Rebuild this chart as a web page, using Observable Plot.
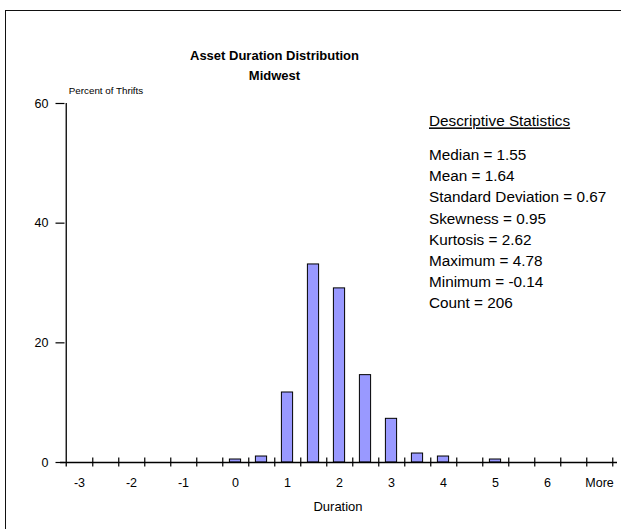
<!DOCTYPE html>
<html><head><meta charset="utf-8">
<script src="https://cdn.jsdelivr.net/npm/d3@7"></script>
<script src="https://cdn.jsdelivr.net/npm/@observablehq/plot@0.6"></script>
<style>
body{margin:0;background:#fff;}
#wrap{position:relative;width:621px;height:529px;overflow:hidden;font-family:"Liberation Sans",Arial,sans-serif;}
#border{position:absolute;left:4.5px;top:9.5px;width:700px;height:600px;border-top:1.5px solid #111;border-left:1.5px solid #111;pointer-events:none;}
#wrap svg{position:absolute;left:0;top:0;}
</style></head><body><div id="wrap"><div id="border"></div></div>
<script>
const categories = ["-3","-2.5","-2","-1.5","-1","-0.5","0","0.5","1","1.5","2","2.5","3","3.5","4","4.5","5","5.5","6","6.5","More"];
const percents = [0,0,0,0,0,0,0.5,1.0,11.7,33.1,29.1,14.6,7.3,1.5,1.0,0,0.5,0,0,0,0];
const tickLabels = ["-3","-2","-1","0","1","2","3","4","5","6","More"];
const yTicks = [0,20,40,60];
const titleLines = ["Asset Duration Distribution","Midwest"];
const yLabel = "Percent of Thrifts";
const xLabel = "Duration";
const statsHeading = "Descriptive Statistics";
const statsLines = ["Median = 1.55","Mean = 1.64","Standard Deviation = 0.67","Skewness = 0.95","Kurtosis = 2.62","Maximum = 4.78","Minimum = -0.14","Count = 206"];

const W = 621, H = 529, ML = 60, MR = 4, MT = 103, MB = 67;
const step = (W - ML - MR) / categories.length;
const bars = categories.map((c, i) => ({c, v: percents[i]})).filter(d => d.v > 0);

const chart = Plot.plot({
  width: W, height: H,
  marginLeft: ML, marginRight: MR, marginTop: MT, marginBottom: MB,
  style: {fontFamily: '"Liberation Sans", Arial, sans-serif', color: "#000", background: "transparent", overflow: "visible"},
  x: {type: "band", domain: categories, padding: 0},
  y: {domain: [0, 60]},
  marks: [
    Plot.barY(bars, {x: "c", y: "v", fill: "#9999FF", stroke: "#000", strokeWidth: 1, insetLeft: 7.4, insetRight: 7.4}),
    Plot.ruleY([0], {stroke: "#000", strokeWidth: 1.3}),
    Plot.ruleX([categories[0]], {dx: -step / 2, insetBottom: -4.5, stroke: "#000", strokeWidth: 1.3}),
    Plot.axisY({ticks: yTicks, tickSize: 9, dx: 4.5, tickPadding: 7.5, fontSize: 12.5, label: null, tickFormat: d => String(d), strokeWidth: 1.2}),
    Plot.axisX({ticks: categories, tickSize: 9, dx: step / 2, dy: -4.5, tickFormat: () => "", label: null, strokeWidth: 1.2}),
    Plot.text(tickLabels, {x: d => d, frameAnchor: "bottom", lineAnchor: "middle", dy: 20.5, fontSize: 12.5}),
    Plot.text([xLabel], {frameAnchor: "bottom", lineAnchor: "middle", dx: -1, dy: 44.4, fontSize: 13}),
    Plot.text([yLabel], {frameAnchor: "top-left", lineAnchor: "middle", dx: 8.3, dy: -13, textAnchor: "start", fontSize: 9.8}),
    Plot.text([titleLines[0]], {frameAnchor: "top", lineAnchor: "middle", dx: -64.5, dy: -48, fontWeight: "bold", fontSize: 13}),
    Plot.text([titleLines[1]], {frameAnchor: "top", lineAnchor: "middle", dx: -64.5, dy: -28, fontWeight: "bold", fontSize: 13}),
    Plot.text([statsHeading], {frameAnchor: "top-left", lineAnchor: "middle", dx: 368.5, dy: 18, textAnchor: "start", fontSize: 15.3}),
    Plot.text([statsLines.join("\n")], {frameAnchor: "top-left", lineAnchor: "middle", dx: 368.5, dy: 123.85, textAnchor: "start", fontSize: 15.3, lineHeight: 1.386})
  ]
});
d3.select(chart).selectAll("text").filter(function() { return this.textContent === statsHeading; }).style("text-decoration", "underline");
document.getElementById("wrap").appendChild(chart);
</script>
</body></html>
